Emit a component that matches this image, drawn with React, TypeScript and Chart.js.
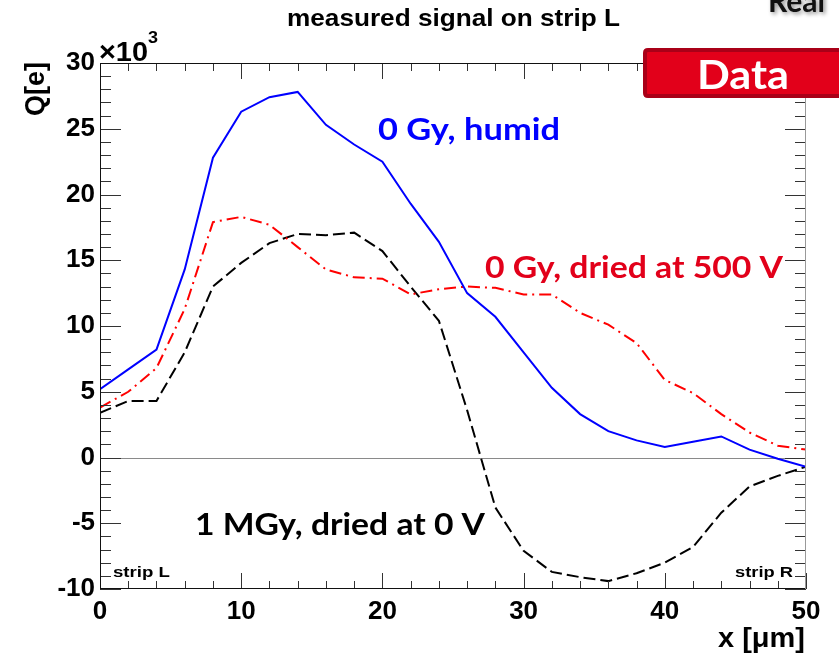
import React, { useEffect, useRef } from "react";
import { Chart, registerables } from "chart.js";

Chart.register(...registerables);

// ---- data ----
const xPositions = [0, 2, 4, 6, 8, 10, 12, 14, 16, 18, 20, 22, 24, 26, 28, 30, 32, 34, 36, 38, 40, 42, 44, 46, 48, 50];
const humid0Gy = [5.2, 6.7, 8.2, 14.3, 22.8, 26.3, 27.4, 27.8, 25.3, 23.8, 22.5, 19.3, 16.4, 12.5, 10.7, 8.0, 5.3, 3.3, 2.0, 1.3, 0.8, 1.2, 1.6, 0.6, -0.1, -0.7];
const dried500V0Gy = [3.8, 5.0, 6.8, 11.3, 17.9, 18.3, 17.7, 16.0, 14.3, 13.7, 13.6, 12.4, 12.8, 13.0, 12.9, 12.4, 12.4, 11.0, 10.1, 8.7, 5.9, 4.9, 3.3, 1.9, 0.9, 0.6];
const dried0V1MGy = [3.4, 4.3, 4.3, 8.0, 13.0, 14.8, 16.3, 17.0, 16.9, 17.1, 15.7, 13.0, 10.4, 3.6, -3.8, -7.1, -8.7, -9.1, -9.4, -8.8, -8.0, -6.8, -4.2, -2.2, -1.4, -0.7];

const xTickValues = [0, 10, 20, 30, 40, 50];
const yTickValues = [-10, -5, 0, 5, 10, 15, 20, 25, 30];

const seriesLabels = ["0 Gy, humid", "0 Gy, dried at 500 V", "1 MGy, dried at 0 V"];
const titleText = "measured signal on strip L";
const xTitle = "x [\u03BCm]";
const yTitle = "Q[e]";

const HELV_FONT = "'Liberation Sans', Arial, sans-serif";
const SLIDE_FONT = "Lato, 'Open Sans', sans-serif";

function fitText(
  ctx: CanvasRenderingContext2D,
  text: string,
  x: number,
  y: number,
  font: string,
  color: string,
  width: number | null,
  align: CanvasTextAlign = "left"
) {
  ctx.save();
  ctx.font = font;
  ctx.fillStyle = color;
  ctx.textAlign = align;
  ctx.textBaseline = "alphabetic";
  const w = ctx.measureText(text).width;
  const s = width ? width / w : 1;
  ctx.translate(x, y);
  ctx.scale(s, 1);
  ctx.fillText(text, 0, 0);
  ctx.restore();
}

const rootStyle = {
  id: "rootStyle",
  beforeDatasetsDraw(chart: any) {
    const { ctx, chartArea, scales } = chart;
    const y0 = Math.round(scales.y.getPixelForValue(0)) + 0.5;
    ctx.save();
    ctx.strokeStyle = "#8a8a8a";
    ctx.lineWidth = 1;
    ctx.beginPath();
    ctx.moveTo(chartArea.left, y0);
    ctx.lineTo(chartArea.right, y0);
    ctx.stroke();
    ctx.restore();
  },
  afterDatasetsDraw(chart: any) {
    const { ctx, chartArea, scales } = chart;
    const { left, right, top, bottom } = chartArea;
    ctx.save();
    ctx.lineWidth = 1;
    ctx.strokeStyle = "#333";
    for (let v = -10; v <= 30; v += 1) {
      const py = Math.round(scales.y.getPixelForValue(v)) + 0.5;
      const len = v % 5 === 0 ? 21 : 11;
      ctx.beginPath();
      ctx.moveTo(left, py);
      ctx.lineTo(left + len, py);
      ctx.moveTo(right, py);
      ctx.lineTo(right - len, py);
      ctx.stroke();
    }
    for (let v = 0; v <= 50; v += 2) {
      const px = Math.round(scales.x.getPixelForValue(v)) + 0.5;
      const len = v % 10 === 0 ? 16 : 8;
      ctx.beginPath();
      ctx.moveTo(px, bottom);
      ctx.lineTo(px, bottom - len);
      ctx.moveTo(px, top);
      ctx.lineTo(px, top + len);
      ctx.stroke();
    }
    ctx.strokeStyle = "#111";
    ctx.beginPath();
    ctx.moveTo(left + 0.5, top);
    ctx.lineTo(left + 0.5, bottom);
    ctx.moveTo(left, bottom - 0.5);
    ctx.lineTo(right, bottom - 0.5);
    ctx.moveTo(left, top + 0.5);
    ctx.lineTo(right, top + 0.5);
    ctx.stroke();
    ctx.strokeStyle = "#999";
    ctx.beginPath();
    ctx.moveTo(right - 0.5, top);
    ctx.lineTo(right - 0.5, bottom);
    ctx.stroke();
    ctx.restore();
  },
  afterDraw(chart: any) {
    const ctx: CanvasRenderingContext2D = chart.ctx;
    fitText(ctx, titleText, 287, 26, `bold 24px ${HELV_FONT}`, "#000", 333);
    fitText(ctx, "\u00D710", 99, 61, `bold 27px ${HELV_FONT}`, "#000", 49);
    fitText(ctx, "3", 148, 43, `bold 17px ${HELV_FONT}`, "#000", 10);
    ctx.save();
    ctx.translate(44, 62);
    ctx.rotate(-Math.PI / 2);
    ctx.font = `bold 27px ${HELV_FONT}`;
    ctx.fillStyle = "#000";
    ctx.textAlign = "right";
    ctx.textBaseline = "alphabetic";
    ctx.fillText(yTitle, 0, 0);
    ctx.restore();
    fitText(ctx, xTitle, 805, 647, `bold 27px ${HELV_FONT}`, "#000", 87, "right");
    fitText(ctx, "strip L", 113, 577, `bold 15px ${HELV_FONT}`, "#000", 57);
    fitText(ctx, "strip R", 793, 577, `bold 15px ${HELV_FONT}`, "#000", 58, "right");
    fitText(ctx, seriesLabels[0], 378, 140, `bold 31px ${SLIDE_FONT}`, "#0000ff", 182);
    fitText(ctx, seriesLabels[1], 485, 278, `bold 31px ${SLIDE_FONT}`, "#e2001a", 298);
    fitText(ctx, seriesLabels[2], 195, 535, `bold 31px ${SLIDE_FONT}`, "#000", 290);
    ctx.save();
    ctx.shadowColor = "rgba(0,0,0,0.45)";
    ctx.shadowBlur = 4;
    ctx.shadowOffsetX = 2;
    ctx.shadowOffsetY = 2;
    ctx.font = `bold 30px ${SLIDE_FONT}`;
    ctx.fillStyle = "#111";
    ctx.textBaseline = "alphabetic";
    ctx.fillText("Real", 768, 12);
    ctx.restore();
    ctx.save();
    ctx.fillStyle = "#e2001a";
    ctx.strokeStyle = "#a90018";
    ctx.lineWidth = 4;
    ctx.beginPath();
    const bx = 645, by = 50, bw = 220, bh = 46, r = 3;
    ctx.moveTo(bx + r, by);
    ctx.lineTo(bx + bw, by);
    ctx.lineTo(bx + bw, by + bh);
    ctx.lineTo(bx + r, by + bh);
    ctx.quadraticCurveTo(bx, by + bh, bx, by + bh - r);
    ctx.lineTo(bx, by + r);
    ctx.quadraticCurveTo(bx, by, bx + r, by);
    ctx.closePath();
    ctx.fill();
    ctx.stroke();
    ctx.restore();
    fitText(ctx, "Data", 743, 89, `bold 40px ${SLIDE_FONT}`, "#ffffff", 92, "center");
  },
};

export default function App() {
  const ref = useRef<HTMLCanvasElement>(null);
  useEffect(() => {
    document.body.style.margin = "0";
    const mk = (ys: number[]) => xPositions.map((x, i) => ({ x, y: ys[i] }));
    const tickFont = { family: HELV_FONT, weight: "bold" as const, size: 26 };
    const chart = new Chart(ref.current!, {
      type: "line",
      data: {
        datasets: [
          { label: seriesLabels[0], data: mk(humid0Gy), borderColor: "#0000ff", borderWidth: 2, pointRadius: 0, tension: 0 },
          { label: seriesLabels[1], data: mk(dried500V0Gy), borderColor: "#ff0000", borderWidth: 2, borderDash: [12, 5, 2, 5], pointRadius: 0, tension: 0 },
          { label: seriesLabels[2], data: mk(dried0V1MGy), borderColor: "#000000", borderWidth: 2, borderDash: [12, 5], pointRadius: 0, tension: 0 },
        ],
      },
      options: {
        animation: false,
        responsive: false,
        devicePixelRatio: 1,
        layout: { padding: { top: 63, right: 33, left: 0, bottom: 0 } },
        plugins: { legend: { display: false }, tooltip: { enabled: false } },
        scales: {
          x: {
            type: "linear",
            min: 0,
            max: 50,
            grid: { display: false, drawTicks: false },
            border: { display: false },
            afterFit: (s: any) => { s.height = 65; },
            afterBuildTicks: (s: any) => { s.ticks = xTickValues.map((v) => ({ value: v })); },
            ticks: { color: "#000", font: tickFont, padding: 7, maxRotation: 0, autoSkip: false },
          },
          y: {
            type: "linear",
            min: -10,
            max: 30,
            grid: { display: false, drawTicks: false },
            border: { display: false },
            afterFit: (s: any) => { s.width = 100; },
            afterBuildTicks: (s: any) => { s.ticks = yTickValues.map((v) => ({ value: v })); },
            ticks: { color: "#000", font: tickFont, padding: 5, autoSkip: false },
          },
        },
      },
      plugins: [rootStyle],
    } as any);
    return () => chart.destroy();
  }, []);
  return (
    <div style={{ width: 839, height: 654 }}>
      <canvas ref={ref} width={839} height={654} style={{ display: "block" }} />
    </div>
  );
}
